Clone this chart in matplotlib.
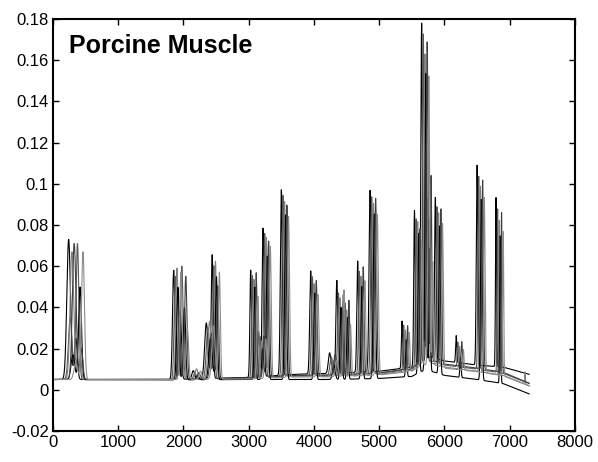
"""
Porcine Muscle chromatogram overlay
"""

import numpy as np
import matplotlib
matplotlib.use("Agg")
import matplotlib.pyplot as plt

# peak table: retention position, width, and height above baseline for each run
peak_pos = [290, 400, 1900, 2000, 2200, 2400, 2490, 3080, 3200, 3270, 3550,
            4000, 4290, 4400, 4500, 4720, 4910, 5400, 5590, 5700, 5760,
            5910, 6230, 6550, 6840, 7235]
peak_width = [28, 22, 18, 18, 20, 25, 15, 12, 15, 15, 15,
              15, 20, 14, 12, 13, 16, 10, 11, 13, 10,
              12, 9, 12, 8, 5]
peak_height = [
    [0.068, 0.020, 0.053, 0.033, 0.004, 0.027, 0.060, 0.052, 0.022, 0.072, 0.090,
     0.050, 0.010, 0.045, 0.038, 0.054, 0.088, 0.023, 0.075, 0.163, 0.095,
     0.078, 0.013, 0.097, 0.082, 0.000],
    [0.030, 0.066, 0.050, 0.055, 0.003, 0.025, 0.055, 0.050, 0.020, 0.070, 0.088,
     0.048, 0.009, 0.040, 0.035, 0.050, 0.086, 0.022, 0.072, 0.160, 0.080,
     0.076, 0.012, 0.094, 0.080, 0.000],
    [0.062, 0.030, 0.054, 0.030, 0.005, 0.028, 0.057, 0.048, 0.018, 0.068, 0.085,
     0.045, 0.008, 0.038, 0.032, 0.048, 0.083, 0.020, 0.070, 0.150, 0.070,
     0.074, 0.011, 0.090, 0.075, 0.006],
    [0.012, 0.045, 0.045, 0.035, 0.002, 0.020, 0.050, 0.045, 0.015, 0.060, 0.080,
     0.042, 0.007, 0.035, 0.030, 0.045, 0.080, 0.018, 0.068, 0.145, 0.060,
     0.072, 0.010, 0.088, 0.072, 0.000],
    [0.066, 0.015, 0.030, 0.050, 0.003, 0.022, 0.045, 0.051, 0.020, 0.066, 0.083,
     0.046, 0.010, 0.030, 0.036, 0.052, 0.085, 0.021, 0.065, 0.155, 0.090,
     0.075, 0.012, 0.092, 0.078, 0.000],
    [0.008, 0.062, 0.052, 0.025, 0.004, 0.026, 0.052, 0.040, 0.019, 0.064, 0.078,
     0.040, 0.008, 0.042, 0.025, 0.046, 0.078, 0.019, 0.060, 0.140, 0.050,
     0.070, 0.010, 0.085, 0.070, 0.000],
]
run_shift = [-50, -25, 0, 15, 35, 60]

# baseline drift of each run
base_x = [0, 1800, 3000, 3700, 4300, 5000, 5500, 5650, 5800, 6000, 6500, 6900, 7300]
base_y = [
    [0.005, 0.005, 0.006, 0.0075, 0.008, 0.009, 0.011, 0.015, 0.016, 0.014, 0.012, 0.011, 0.0075],
    [0.005, 0.005, 0.0055, 0.007, 0.007, 0.008, 0.010, 0.013, 0.014, 0.012, 0.010, 0.008, 0.003],
    [0.005, 0.005, 0.0055, 0.0065, 0.0065, 0.0075, 0.0095, 0.013, 0.013, 0.011, 0.009, 0.007, 0.002],
    [0.005, 0.0048, 0.005, 0.005, 0.005, 0.0055, 0.0065, 0.009, 0.009, 0.007, 0.005, 0.003, -0.002],
    [0.005, 0.005, 0.0058, 0.007, 0.0072, 0.0082, 0.0105, 0.014, 0.0145, 0.0125, 0.0105, 0.0085, 0.0032],
    [0.005, 0.005, 0.0052, 0.0062, 0.0063, 0.0072, 0.009, 0.012, 0.0125, 0.0105, 0.0088, 0.0068, 0.0018],
]
run_color = ["black", "0.35", "0.5", "black", "0.25", "0.55"]

x_ticks = [0, 1000, 2000, 3000, 4000, 5000, 6000, 7000, 8000]
y_ticks = [-0.02, 0, 0.02, 0.04, 0.06, 0.08, 0.1, 0.12, 0.14, 0.16, 0.18]
y_labels = ["-0.02", "0", "0.02", "0.04", "0.06", "0.08", "0.1", "0.12", "0.14", "0.16", "0.18"]

plt.rcParams["font.family"] = ["Liberation Sans", "DejaVu Sans"]

fig = plt.figure(figsize=(5.98, 4.62), dpi=100)
ax = fig.add_axes([0.0886, 0.0671, 0.8729, 0.8918])

t = np.arange(0, 7300, 2.0)
for k in range(len(run_shift)):
    sig = np.interp(t, base_x, base_y[k])
    for c, w, h in zip(peak_pos, peak_width, peak_height[k]):
        sig = sig + h * np.exp(-0.5 * ((t - c - run_shift[k]) / w) ** 2)
    ax.plot(t, sig, color=run_color[k], lw=0.8)

ax.set_xlim(0, 8000)
ax.set_ylim(-0.02, 0.18)
ax.set_xticks(x_ticks)
ax.set_xticklabels([str(v) for v in x_ticks])
ax.set_yticks(y_ticks)
ax.set_yticklabels(y_labels)
ax.tick_params(direction="in", length=4, width=1, top=True, right=True,
               labelsize=12, pad=3)
for s in ax.spines.values():
    s.set_linewidth(1.5)

ax.text(245, 0.1635, "Porcine Muscle", fontsize=18, fontweight="bold")

fig.savefig("out.png", dpi=100)
